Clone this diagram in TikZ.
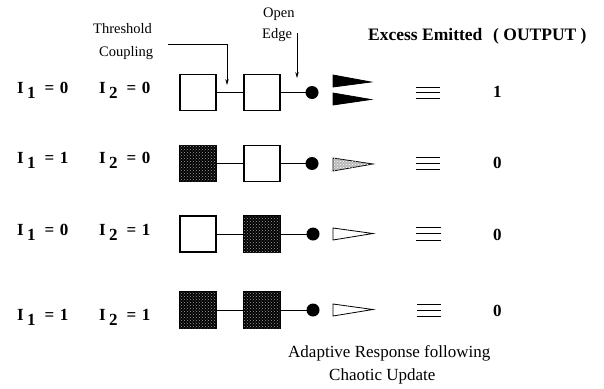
\documentclass[tikz,border=0pt]{standalone}
\usepackage{fontspec}
\setmainfont{Liberation Serif}
\usetikzlibrary{arrows.meta,patterns}
\newcommand{\Ilab}[2]{I\hspace{3.2pt}\raisebox{-5pt}{#1}\hspace{9.2pt}=\hspace{5.4pt}#2}
\begin{document}
\begin{tikzpicture}[x=1pt,y=-1pt,
  cell/.style={draw, line width=1.1pt, minimum size=36pt, inner sep=0pt, outer sep=0pt},
  off/.style={cell, fill=white},
  on/.style={cell, fill=black, postaction={pattern=crosshatch dots, pattern color=gray!75}},
  dotnode/.style={circle, fill=black, minimum size=13pt, inner sep=0pt, outer sep=0pt},
  link/.style={line width=0.8pt},
  arr/.style={line width=0.7pt, -{Stealth[length=6pt,width=3.5pt]}},
  lab/.style={font=\fontsize{17}{17}\selectfont\bfseries, inner sep=0pt, anchor=base west},
  small/.style={font=\fontsize{14.5}{14.5}\selectfont, inner sep=0pt, anchor=base west},
  big/.style={font=\fontsize{17}{17}\selectfont, inner sep=0pt, anchor=base west},
  head/.style={font=\fontsize{17.5}{17.5}\selectfont\bfseries, inner sep=0pt, anchor=base west},
  tri/.style={draw, line width=0.8pt, line join=miter},
  eqv/.style={line width=0.9pt}]
\useasboundingbox (0,0) rectangle (604,388);

% header texts
\node[small] (thr) at (93,33) {Threshold};
\node[small] (cpl) at (99,56) {Coupling};
\node[small] (opn) at (263,17) {Open};
\node[small] (edg) at (262,38) {Edge};
\node[head] (exc) at (368,40) {Excess Emitted};
\node[head] (out) at (493,40) {( OUTPUT )};

% row 1
\node[lab] (r1a) at (17,93) {\Ilab{1}{0}};
\node[lab] (r1b) at (99,93) {\Ilab{2}{0}};
\node[off] (a1) at (198,92.5) {};
\node[off] (b1) at (262,92.5) {};
\node[dotnode] (d1) at (312,92.5) {};
\draw[link] (a1) -- (b1);
\draw[link] (b1) -- (d1);
\fill[tri, fill=black] (333,75) -- (333,87) -- (371,82) -- cycle;
\fill[tri, fill=black] (333,93) -- (333,105) -- (371,99.5) -- cycle;
\foreach \dy in {-5.5,0,5.5} \draw[eqv] (416,92.5+\dy) -- (440,92.5+\dy);
\node[lab] (o1) at (493,97.5) {1};

% row 2
\node[lab] (r2a) at (17,163) {\Ilab{1}{1}};
\node[lab] (r2b) at (99,163) {\Ilab{2}{0}};
\node[on] (a2) at (198,163.5) {};
\node[off] (b2) at (262,163.5) {};
\node[dotnode] (d2) at (312,163.5) {};
\draw[link] (a2) -- (b2);
\draw[link] (b2) -- (d2);
\draw[tri, fill=gray!55, postaction={pattern=crosshatch dots, pattern color=white}] (333,158) -- (333,171) -- (373,164) -- cycle;
\foreach \dy in {-6,0,6} \draw[eqv] (416,163+\dy) -- (440,163+\dy);
\node[lab] (o2) at (493,168.5) {0};

% row 3
\node[lab] (r3a) at (17,235) {\Ilab{1}{0}};
\node[lab] (r3b) at (99,235) {\Ilab{2}{1}};
\node[off] (a3) at (198,234) {};
\node[on] (b3) at (262,234) {};
\node[dotnode] (d3) at (313,234) {};
\draw[link] (a3) -- (b3);
\draw[link] (b3) -- (d3);
\draw[tri, fill=white] (333,228) -- (333,240) -- (373,233.5) -- cycle;
\foreach \dy in {-6.5,0,6.5} \draw[eqv] (416,233.5+\dy) -- (441,233.5+\dy);
\node[lab] (o3) at (493,240) {0};

% row 4
\node[lab] (r4a) at (17,320) {\Ilab{1}{1}};
\node[lab] (r4b) at (99,320) {\Ilab{2}{1}};
\node[on] (a4) at (198,310) {};
\node[on] (b4) at (262,310) {};
\node[dotnode] (d4) at (313,310) {};
\draw[link] (a4) -- (b4);
\draw[link] (b4) -- (d4);
\draw[tri, fill=white] (333,304) -- (333,316) -- (373,309.5) -- cycle;
\foreach \dy in {-6,0,6} \draw[eqv] (417,310+\dy) -- (441,310+\dy);
\node[lab] (o4) at (493,316) {0};

% annotation arrows
\coordinate (t0) at (168,44);
\coordinate (t1) at (227,44);
\coordinate (t2) at (227,85);
\draw[arr] (t0) -- (t1) -- (t2);
\coordinate (e0) at (297,33);
\coordinate (e1) at (297,78);
\draw[arr] (e0) -- (e1);

% bottom caption
\node[big] (cap1) at (288,357) {Adaptive Response following};
\node[big] (cap2) at (329,380) {Chaotic Update};
\end{tikzpicture}
\end{document}
